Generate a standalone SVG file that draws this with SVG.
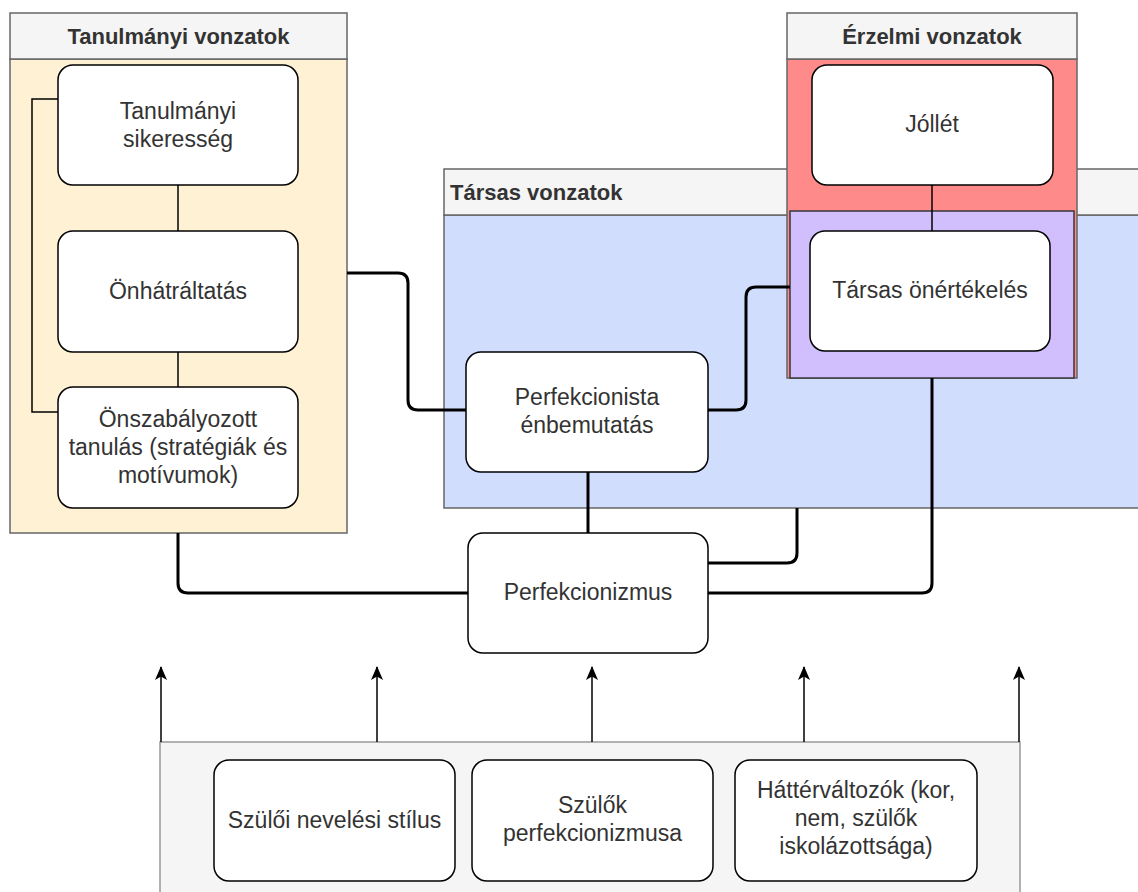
<svg xmlns="http://www.w3.org/2000/svg" width="1138" height="892" viewBox="0 0 1138 892">
<defs>
<style>
.hdr{fill:#f5f5f5;stroke:#666666;stroke-width:1.5}
.ht{font-family:"Liberation Sans",Arial,sans-serif;font-size:22px;font-weight:bold;fill:#333333}
.node{fill:#ffffff;stroke:#000000;stroke-width:1.5}
.nt{font-family:"Liberation Sans",Arial,sans-serif;font-size:23px;fill:#333333;text-anchor:middle}
.thick{fill:none;stroke:#000000;stroke-width:3;stroke-linejoin:round}
.thin{fill:none;stroke:#000000;stroke-width:1.5}
.arr{fill:none;stroke:#000000;stroke-width:1.5;marker-end:url(#ah)}
</style>
<marker id="ah" viewBox="0 0 14 12" refX="13" refY="6" markerWidth="14" markerHeight="12" markerUnits="userSpaceOnUse" orient="auto">
<path d="M0,0 L14,6 L0,12 L3.5,6 Z" fill="#000000"/>
</marker>
</defs>
<rect width="1138" height="892" fill="#ffffff"/>

<g id="tarsas-vonzatok">
<rect x="444" y="215" width="700" height="293" fill="#d0ddfc" stroke="#666666" stroke-width="1.5"/>
<rect x="444" y="169" width="700" height="46" class="hdr"/>
<text x="450" y="200" class="ht">Társas vonzatok</text>
</g>

<g id="tanulmanyi-vonzatok">
<rect x="10" y="59" width="337" height="474" fill="#fff2d4" stroke="#666666" stroke-width="1.5"/>
<rect x="10" y="13" width="337" height="46" class="hdr"/>
<text x="178.5" y="44" class="ht" text-anchor="middle">Tanulmányi vonzatok</text>
</g>

<g id="erzelmi-vonzatok">
<rect x="787" y="59" width="290" height="319" fill="#ff8a8a" stroke="#666666" stroke-width="1.5"/>
<rect x="787" y="13" width="290" height="46" class="hdr"/>
<text x="932" y="44" class="ht" text-anchor="middle">Érzelmi vonzatok</text>
<rect x="790" y="211" width="284" height="167" fill="#d1befc" stroke="#36393d" stroke-width="1.5"/>
</g>

<g id="hatter-container">
<rect x="160" y="742" width="860" height="160" fill="#f5f5f5" stroke="#999999" stroke-width="1.5"/>
</g>

<g id="connectors">
<path class="thin" d="M58,99 H32 V412 H58"/>
<path class="thin" d="M178,185 V231"/>
<path class="thin" d="M178,352 V387"/>
<path class="thin" d="M932,185 V231"/>
<path class="thick" d="M347,273 H398 Q408,273 408,283 V400 Q408,410 418,410 H466"/>
<path class="thick" d="M708,410 H736 Q746,410 746,400 V297 Q746,287 756,287 H790"/>
<path class="thick" d="M588,472 V533"/>
<path class="thick" d="M178,533 V583 Q178,593 188,593 H468"/>
<path class="thick" d="M708,563 H787 Q797,563 797,553 V508"/>
<path class="thick" d="M708,593 H922 Q932,593 932,583 V378"/>
<path class="arr" d="M161,742 V667"/>
<path class="arr" d="M377,742 V667"/>
<path class="arr" d="M592,742 V667"/>
<path class="arr" d="M804,742 V667"/>
<path class="arr" d="M1019,742 V667"/>
</g>

<g id="tanulmanyi-sikeresseg">
<rect x="58" y="65" width="240" height="120" rx="15" class="node"/>
<text class="nt"><tspan x="178" y="119">Tanulmányi</tspan><tspan x="178" y="147">sikeresség</tspan></text>
</g>
<g id="onhatraltatas">
<rect x="58" y="231" width="240" height="121" rx="15" class="node"/>
<text x="178" y="299" class="nt">Önhátráltatás</text>
</g>
<g id="onszabalyozott-tanulas">
<rect x="58" y="387" width="240" height="121" rx="15" class="node"/>
<text class="nt"><tspan x="178" y="427">Önszabályozott</tspan><tspan x="178" y="455">tanulás (stratégiák és</tspan><tspan x="178" y="483">motívumok)</tspan></text>
</g>
<g id="perfekcionista-enbemutatas">
<rect x="466" y="352" width="242" height="120" rx="15" class="node"/>
<text class="nt"><tspan x="587" y="405">Perfekcionista</tspan><tspan x="587" y="433">énbemutatás</tspan></text>
</g>
<g id="jollet">
<rect x="812" y="65" width="241" height="120" rx="15" class="node"/>
<text x="932" y="132" class="nt">Jóllét</text>
</g>
<g id="tarsas-onertekeles">
<rect x="810" y="231" width="240" height="120" rx="15" class="node"/>
<text x="930" y="298" class="nt">Társas önértékelés</text>
</g>
<g id="perfekcionizmus">
<rect x="468" y="533" width="240" height="120" rx="15" class="node"/>
<text x="588" y="600" class="nt">Perfekcionizmus</text>
</g>
<g id="szuloi-nevelesi-stilus">
<rect x="214" y="760" width="241" height="121" rx="15" class="node"/>
<text x="334.5" y="828" class="nt">Szülői nevelési stílus</text>
</g>
<g id="szulok-perfekcionizmusa">
<rect x="472" y="760" width="241" height="121" rx="15" class="node"/>
<text class="nt"><tspan x="592.5" y="813">Szülők</tspan><tspan x="592.5" y="841">perfekcionizmusa</tspan></text>
</g>
<g id="hattervaltozok">
<rect x="735" y="760" width="242" height="121" rx="15" class="node"/>
<text class="nt"><tspan x="856" y="798">Háttérváltozók (kor,</tspan><tspan x="856" y="826">nem, szülők</tspan><tspan x="856" y="854">iskolázottsága)</tspan></text>
</g>
</svg>
